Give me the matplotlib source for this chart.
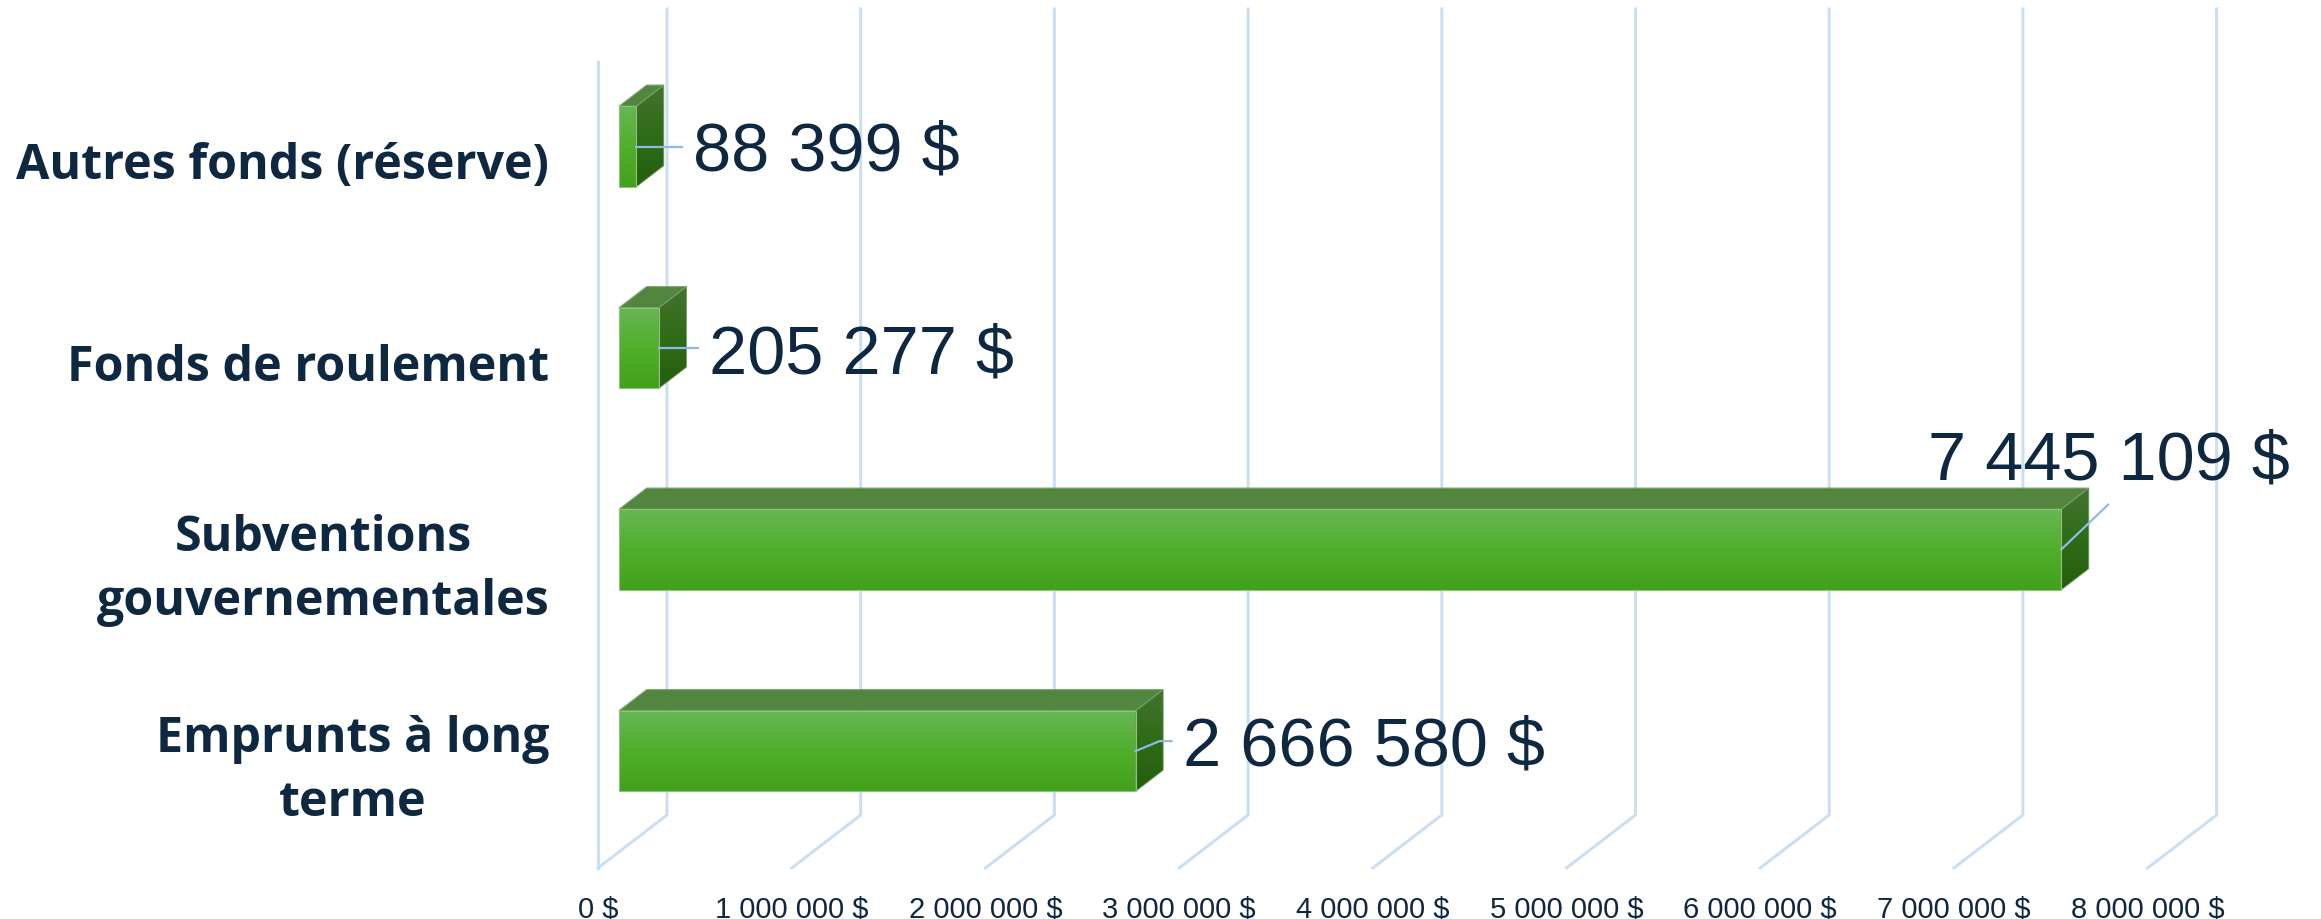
import matplotlib
matplotlib.use('Agg')
import matplotlib.pyplot as plt
import numpy as np
from matplotlib.colors import LinearSegmentedColormap
from matplotlib.patches import Polygon
from matplotlib.transforms import ScaledTranslation

# bottom to top, same order as the chart's category axis
categories = ['Emprunts à long\nterme', 'Subventions\ngouvernementales', 'Fonds de roulement', 'Autres fonds (réserve)']
values = [2666580, 7445109, 205277, 88399]
value_labels = ['2 666 580 $', '7 445 109 $', '205 277 $', '88 399 $']
tick_values = [0, 1000000, 2000000, 3000000, 4000000, 5000000, 6000000, 7000000, 8000000]
tick_labels = ['0 $', '1 000 000 $', '2 000 000 $', '3 000 000 $', '4 000 000 $', '5 000 000 $', '6 000 000 $', '7 000 000 $', '8 000 000 $']

W, H = 2321, 920
DARK = '#0e2841'
GRID = '#cbdff3'
LEADER = '#8dbbe8'

# size of the plot box in pixels (front plane of the fake 3D)
left, right, top, bottom = 598, 2147.6, 63, 869
px_x = (right - left) / 8000000.0   # pixels per dollar
px_y = (bottom - top) / 4.0         # pixels per category

# whole depth of the box, in data units
depth_x = 69 / px_x
depth_y = 53 / px_y
bar_front = 0.305
bar_back = 0.705
bar_h = 0.40


def proj(v, c, d):
    return v + d * depth_x, c + d * depth_y


fig = plt.figure(figsize=(W / 100, H / 100), dpi=100, facecolor='white')
plt.rcParams['font.family'] = ['Liberation Sans', 'DejaVu Sans']
ax = fig.add_axes([left / W, 1 - bottom / H, (right - left) / W, (bottom - top) / H])
ax.set_facecolor('none')
for s in ax.spines.values():
    s.set_visible(False)

# walls
for t in tick_values:
    x0, y0 = proj(t, -0.5, 0)
    x1, y1 = proj(t, -0.5, 1)
    x2, y2 = proj(t, 3.5, 1)
    ax.plot([x0, x1, x2], [y0, y1, y2], color=GRID, lw=2.2, zorder=1, clip_on=False, solid_joinstyle='miter')
ax.plot([0, 0], [-0.5, 3.5], color=GRID, lw=2.2, zorder=1, clip_on=False)

front_cm = LinearSegmentedColormap.from_list('front', ['#68b655', '#50af2b', '#42a01c'])
side_cm = LinearSegmentedColormap.from_list('side', ['#45722f', '#2f6c17', '#245e0e'])
grad = np.linspace(0, 1, 128)[:, None]


def shaded(pts, cmap, z):
    xs = [p[0] for p in pts]
    ys = [p[1] for p in pts]
    im = ax.imshow(grad, cmap=cmap, aspect='auto', origin='upper', zorder=z,
                   extent=(min(xs), max(xs), min(ys), max(ys)), interpolation='bilinear')
    im.set_clip_path(Polygon(pts, closed=True, transform=ax.transData))
    im.set_clip_on(True)


for c, v in enumerate(values):
    lo = c - bar_h / 2
    hi = c + bar_h / 2
    front = [proj(0, lo, bar_front), proj(v, lo, bar_front), proj(v, hi, bar_front), proj(0, hi, bar_front)]
    side = [proj(v, lo, bar_front), proj(v, lo, bar_back), proj(v, hi, bar_back), proj(v, hi, bar_front)]
    roof = [proj(0, hi, bar_front), proj(v, hi, bar_front), proj(v, hi, bar_back), proj(0, hi, bar_back)]
    shaded(front, front_cm, 3)
    shaded(side, side_cm, 3)
    ax.add_patch(Polygon(roof, closed=True, facecolor='#52863f', edgecolor='#7ea56f', lw=0.8, zorder=3, clip_on=False))
    ax.add_patch(Polygon(side, closed=True, fill=False, edgecolor='#6f9a5e', lw=0.6, zorder=3, clip_on=False))
    ax.add_patch(Polygon(front, closed=True, fill=False, edgecolor='#8cc47a', lw=0.8, zorder=3, clip_on=False))

# pixel offsets from the front middle of each bar (up is positive): leader points, then label
leaders = [[(0, 0), (24, 10), (36, 10)], [(0, 0), (47, 45)], [(0, 0), (39, 0)], [(0, 0), (46, 0)]]
label_off = [(47, 12), (-133, 96), (50, 1), (57, 2)]

for c, v in enumerate(values):
    x0, y0 = proj(v, c, bar_front)
    lx = [x0 + p[0] / px_x for p in leaders[c]]
    ly = [y0 + p[1] / px_y for p in leaders[c]]
    ax.plot(lx, ly, color=LEADER, lw=1.6, zorder=4, clip_on=False)
    tx = x0 + label_off[c][0] / px_x
    ty = y0 + label_off[c][1] / px_y
    ax.text(tx, ty, value_labels[c], fontsize=49.3, color=DARK, va='center_baseline', ha='left', zorder=5, clip_on=False)

ax.set_xlim(0, 8000000)
ax.set_ylim(-0.5, 3.5)
ax.set_xticks(tick_values)
ax.set_xticklabels(tick_labels, fontsize=21, color=DARK)
ax.set_yticks(range(len(categories)))
ax.set_yticklabels(categories, fontsize=34.8, color=DARK, family=['Open Sans', 'DejaVu Sans'], fontweight='bold',
                   linespacing=1.4, multialignment='center')
ax.tick_params(axis='x', length=0, pad=19)
ax.tick_params(axis='y', length=0, pad=35)

# nudge the category labels up, two-line ones need more
for lab, name in zip(ax.get_yticklabels(), categories):
    up = 10 if '\n' in name else 3
    lab.set_transform(lab.get_transform() + ScaledTranslation(0, up / 100, fig.dpi_scale_trans))

fig.savefig('out.png', dpi=100, facecolor='white')
